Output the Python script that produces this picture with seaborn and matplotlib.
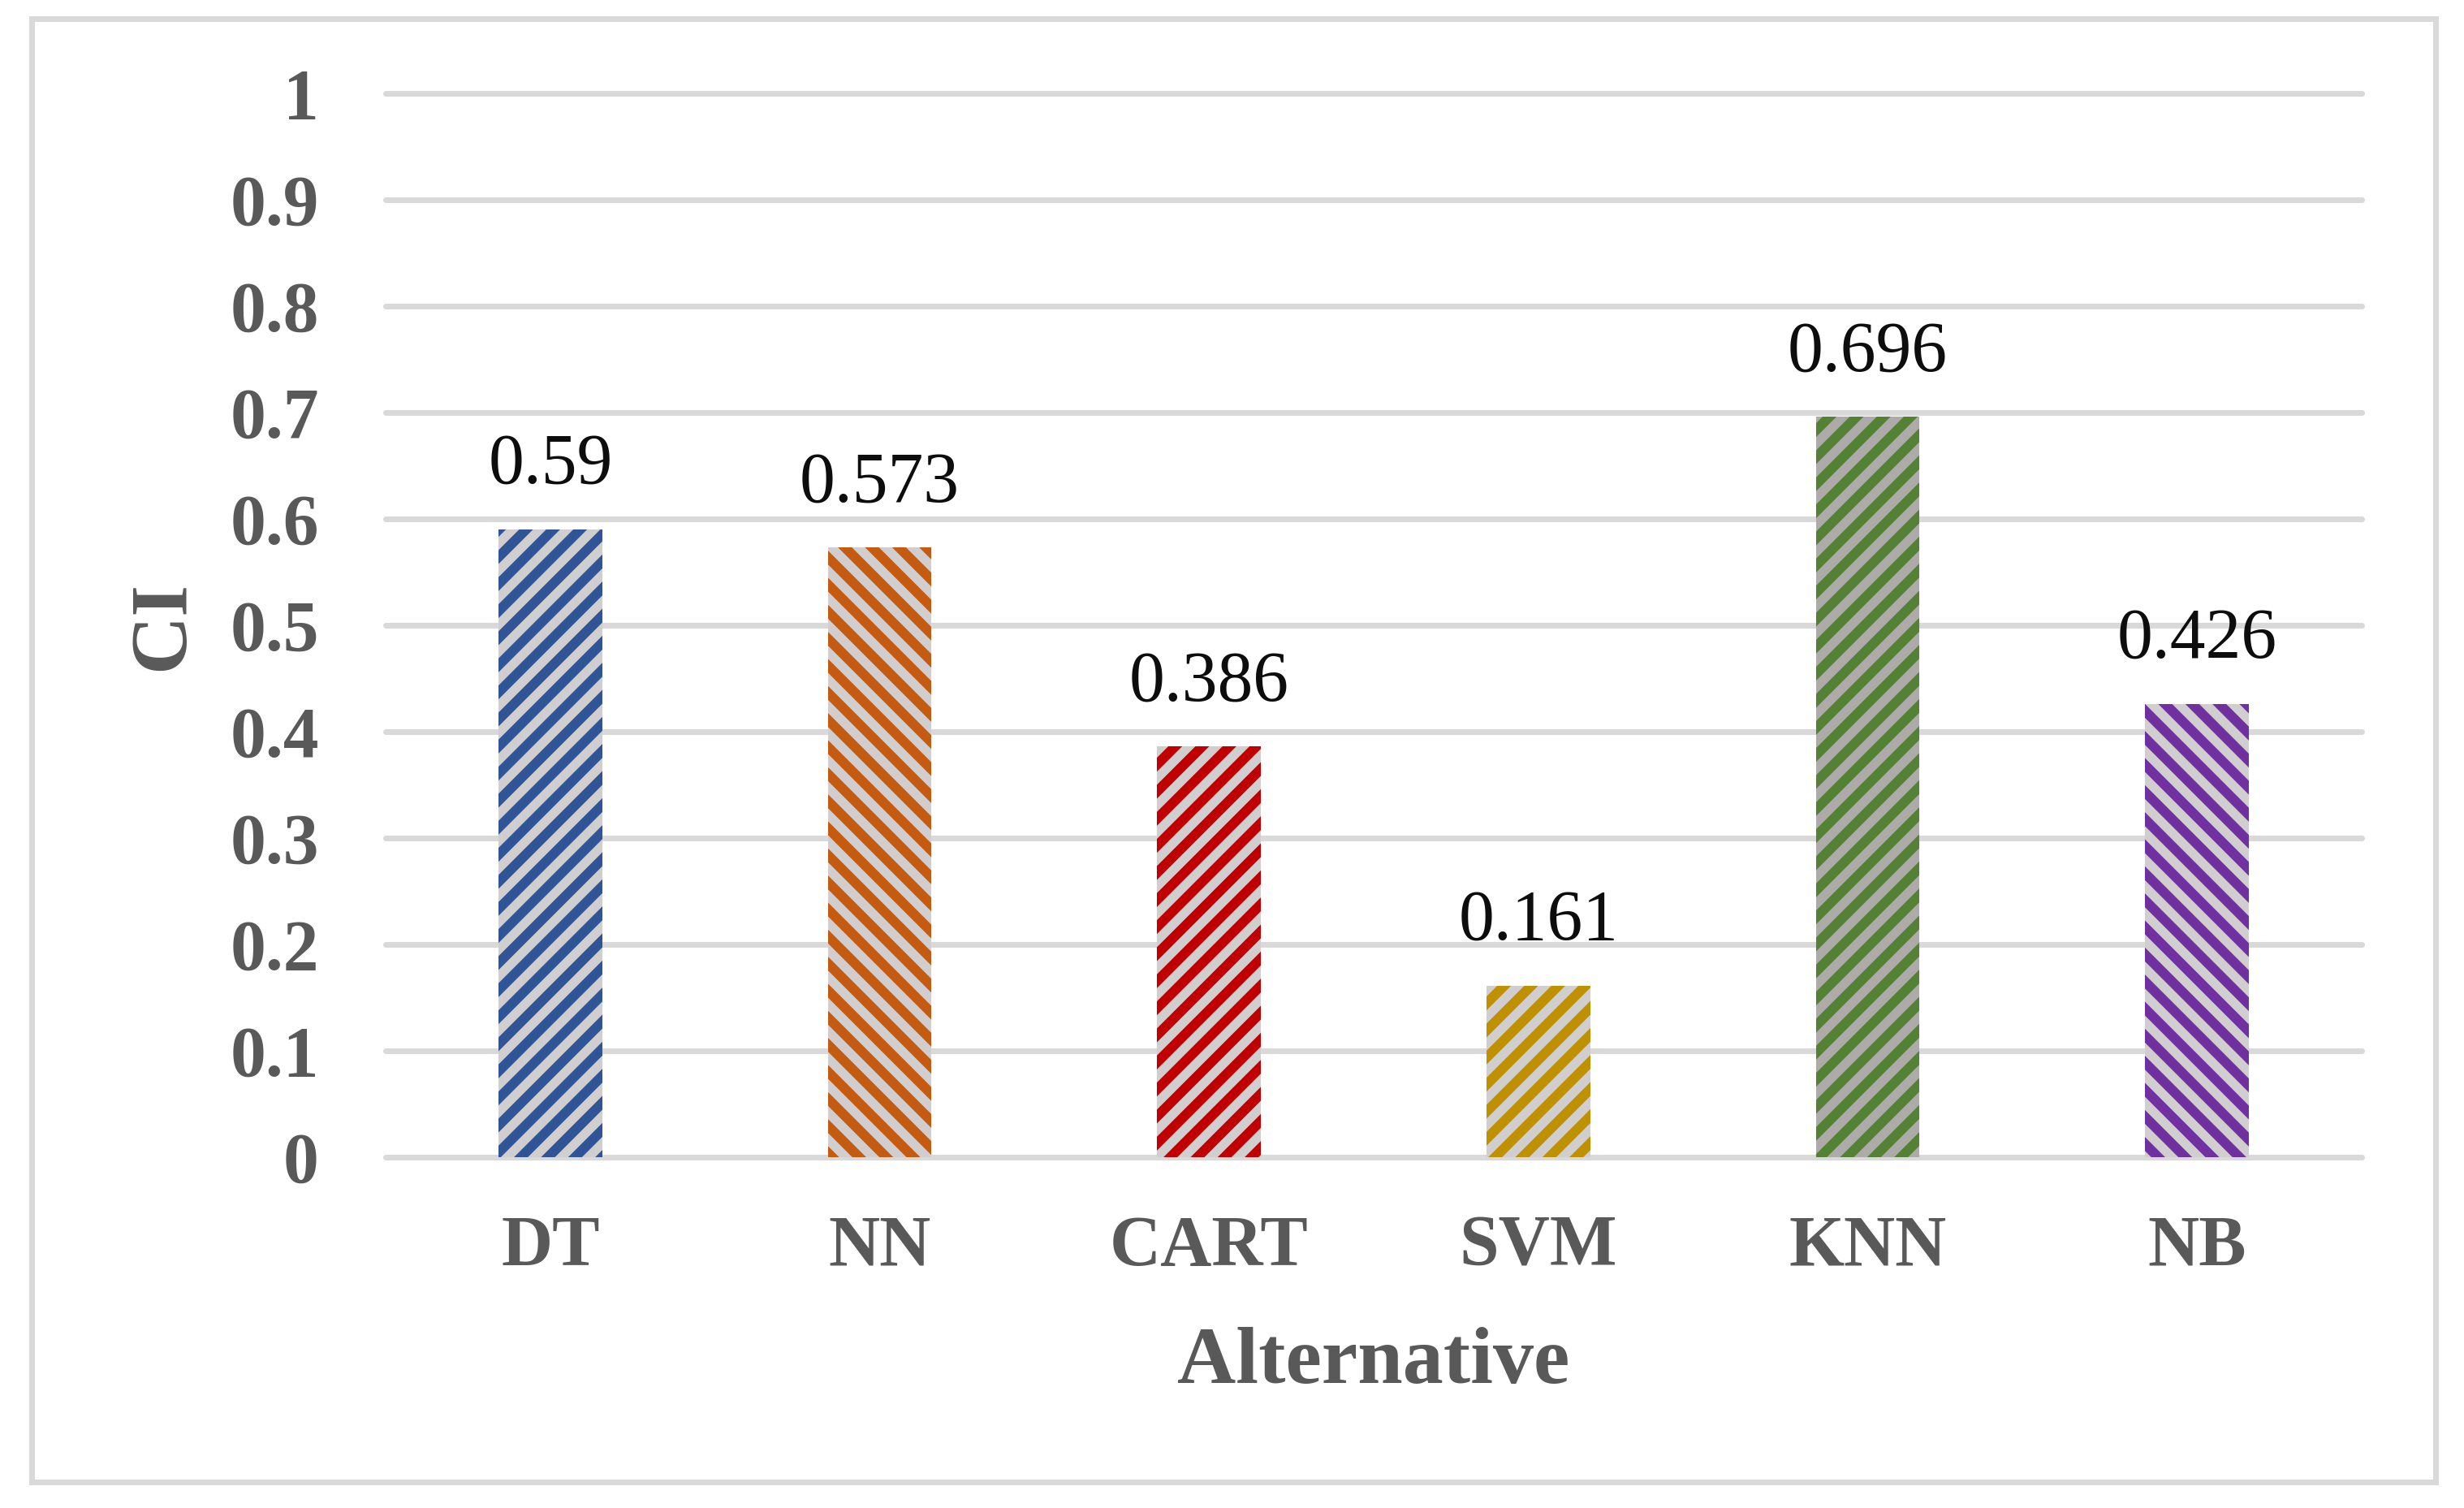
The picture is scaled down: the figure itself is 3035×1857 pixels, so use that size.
import matplotlib
matplotlib.use("Agg")
import matplotlib.pyplot as plt
import seaborn as sns
import pandas as pd
from matplotlib.patches import Rectangle

# chart values
alternatives = ["DT", "NN", "CART", "SVM", "KNN", "NB"]
ci_values = [0.59, 0.573, 0.386, 0.161, 0.696, 0.426]
value_labels = ["0.59", "0.573", "0.386", "0.161", "0.696", "0.426"]
y_ticks = [0, 0.1, 0.2, 0.3, 0.4, 0.5, 0.6, 0.7, 0.8, 0.9, 1]
y_tick_labels = ["0", "0.1", "0.2", "0.3", "0.4", "0.5", "0.6", "0.7", "0.8", "0.9", "1"]

stripe_colors = ["#2F5597", "#C55A11", "#C00000", "#BF9000", "#548235", "#7030A0"]
fill_colors = ["#D0CECE", "#D0CECE", "#D0CECE", "#D0CECE", "#AEAAAA", "#D0CECE"]
hatches = ["///", "\\\\\\", "///", "///", "///", "\\\\\\"]

sns.set_theme(style="white")
plt.rcParams["font.family"] = ["Liberation Serif", "DejaVu Serif"]
plt.rcParams["hatch.linewidth"] = 2.9

W, H, DPI = 3035, 1857, 300
fig = plt.figure(figsize=(W / DPI, H / DPI), dpi=DPI)
ax = fig.add_axes([475 / W, 1 - 1425 / H, (2909 - 475) / W, 1310 / H])

data = pd.DataFrame({"Alternative": alternatives, "CI": ci_values})
sns.barplot(data=data, x="Alternative", y="CI", hue="Alternative",
            palette=fill_colors, legend=False, width=0.315, ax=ax,
            saturation=1)

for bar, col, h in zip(ax.patches, stripe_colors, hatches):
    bar.set_hatch(h)
    bar.set_edgecolor(col)
    bar.set_linewidth(0)

for i, (v, lab) in enumerate(zip(ci_values, value_labels)):
    ax.annotate(lab, xy=(i, v), xytext=(0, 13.7), textcoords="offset points",
                ha="center", va="baseline", fontsize=21, color="#0D0D0D")

ax.set_ylim(0, 1)
ax.set_yticks(y_ticks)
ax.set_yticklabels(y_tick_labels)
ax.tick_params(axis="both", length=0, labelsize=21, labelcolor="#595959")
ax.tick_params(axis="y", pad=19.7)
ax.tick_params(axis="x", pad=17)
for t in ax.get_xticklabels() + ax.get_yticklabels():
    t.set_fontweight("bold")

ax.grid(axis="y", color="#D9D9D9", linewidth=1.7)
ax.set_axisbelow(True)
for gl in ax.get_ygridlines():
    gl.set_clip_on(False)
for s in ax.spines.values():
    s.set_visible(False)

ax.set_xlabel("Alternative", fontsize=24, fontweight="bold", color="#595959", va="baseline")
ax.xaxis.set_label_coords(0.5, (1425 - 1703) / 1310)
ax.set_ylabel("CI", fontsize=24, fontweight="bold", color="#595959", va="center")
ax.yaxis.set_label_coords((201 - 475) / 2434, 0.5)

# outer chart border
fig.patches.append(Rectangle((38.5 / W, 1 - 1825 / H), (2999.5 - 38.5) / W, (1825 - 23.5) / H,
                             transform=fig.transFigure, fill=False,
                             edgecolor="#D9D9D9", linewidth=1.7))

fig.savefig("out.png", dpi=DPI, facecolor="white")
